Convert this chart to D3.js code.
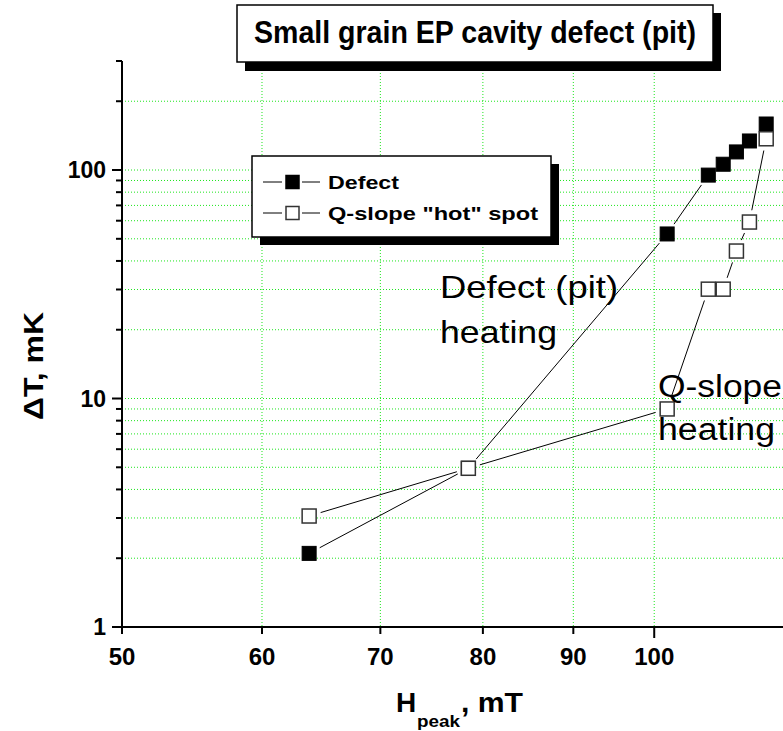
<!DOCTYPE html>
<html>
<head>
<meta charset="utf-8">
<script src="https://cdnjs.cloudflare.com/ajax/libs/d3/7.8.5/d3.min.js"></script>
<style>
    body { margin: 0; background: #ffffff; }
    text { font-family: Arial, "Liberation Sans", sans-serif; }
</style>
</head>
<body>
<div id="content"></div>
<script>
// data
var defectH = [63.8, 78.5, 101.7, 107.3, 109.4, 111.3, 113.2, 115.7];
var defectT = [2.1, 4.95, 52.5, 95, 106, 120, 134, 159];
var hotH = [63.8, 78.5, 101.7, 107.3, 109.4, 111.3, 113.2, 115.7];
var hotT = [3.06, 4.95, 9.0, 30.1, 30.1, 44.2, 59.2, 137];
var xTicks = [50, 60, 70, 80, 90, 100];
var xGrid = [60, 70, 80, 90, 100];
var yMajor = [1, 10, 100];
var yMinor = [2, 3, 4, 5, 6, 7, 8, 9, 20, 30, 40, 50, 60, 70, 80, 90, 200, 300];
var yGrid = [2, 3, 4, 5, 6, 7, 8, 9, 10, 20, 30, 40, 50, 60, 70, 80, 90, 100, 200];

var W = 783, H = 731;
var x0 = 122, y0 = 627, yTop = 61;
var perDecade = 1768;

var svg = d3.select("#content").append("svg")
    .attr("width", W)
    .attr("height", H)
    .style("display", "block");

var x = d3.scaleLog().domain([50, 120]).range([x0, x0 + perDecade * Math.log10(120 / 50)]);
var y = d3.scaleLog().domain([1, 300]).range([y0, yTop]);

//grid
var gridColor = "#1ee61e";
svg.selectAll(".hgrid").data(yGrid).enter().append("line")
    .attr("x1", x0).attr("x2", W)
    .attr("y1", function(d){ return y(d); })
    .attr("y2", function(d){ return y(d); })
    .attr("stroke", gridColor)
    .attr("stroke-width", 1)
    .attr("stroke-dasharray", "1,2");
svg.selectAll(".vgrid").data(xGrid).enter().append("line")
    .attr("x1", function(d){ return x(d); })
    .attr("x2", function(d){ return x(d); })
    .attr("y1", yTop).attr("y2", y0)
    .attr("stroke", gridColor)
    .attr("stroke-width", 1)
    .attr("stroke-dasharray", "1,2");

//axes
svg.append("line").attr("x1", x0).attr("x2", x0).attr("y1", yTop).attr("y2", y0 + 1)
    .attr("stroke", "#000").attr("stroke-width", 2);
svg.append("line").attr("x1", x0 - 1).attr("x2", W).attr("y1", y0).attr("y2", y0)
    .attr("stroke", "#000").attr("stroke-width", 2);

svg.selectAll(".ymaj").data(yMajor).enter().append("line")
    .attr("x1", x0 - 10).attr("x2", x0)
    .attr("y1", function(d){ return y(d); })
    .attr("y2", function(d){ return y(d); })
    .attr("stroke", "#000").attr("stroke-width", 2);
svg.selectAll(".ymin").data(yMinor).enter().append("line")
    .attr("x1", x0 - 6).attr("x2", x0)
    .attr("y1", function(d){ return y(d); })
    .attr("y2", function(d){ return y(d); })
    .attr("stroke", "#000").attr("stroke-width", 2);
svg.selectAll(".xtick").data(xTicks).enter().append("line")
    .attr("x1", function(d){ return x(d); })
    .attr("x2", function(d){ return x(d); })
    .attr("y1", y0)
    .attr("y2", function(d){ return d == 100 ? y0 + 11 : y0 + 7; })
    .attr("stroke", "#000").attr("stroke-width", 2);

svg.selectAll(".ylab").data(yMajor).enter().append("text")
    .text(function(d){ return d; })
    .attr("x", x0 - 16)
    .attr("y", function(d){ return y(d) + 8; })
    .attr("text-anchor", "end")
    .attr("font-size", 23)
    .attr("font-weight", "bold");
svg.selectAll(".xlab").data(xTicks).enter().append("text")
    .text(function(d){ return d; })
    .attr("x", function(d){ return x(d); })
    .attr("y", 665)
    .attr("text-anchor", "middle")
    .attr("font-size", 24)
    .attr("font-weight", "bold");

//axis titles
svg.append("text")
    .text("\u0394T, mK")
    .attr("transform", "translate(43,366) rotate(-90)")
    .attr("text-anchor", "middle")
    .attr("font-size", 27)
    .attr("font-weight", "bold")
    .attr("textLength", 108)
    .attr("lengthAdjust", "spacingAndGlyphs");
svg.append("text").text("H").attr("x", 396).attr("y", 712)
    .attr("font-size", 28).attr("font-weight", "bold");
svg.append("text").text("peak").attr("x", 417).attr("y", 727)
    .attr("font-size", 17).attr("font-weight", "bold")
    .attr("textLength", 43).attr("lengthAdjust", "spacingAndGlyphs");
svg.append("text").text(", mT").attr("x", 461).attr("y", 712)
    .attr("font-size", 28).attr("font-weight", "bold")
    .attr("textLength", 62).attr("lengthAdjust", "spacingAndGlyphs");

//connecting lines with a gap around each marker
function drawLines(xs, ys){
    var gap = 12;
    for(var i = 1; i < xs.length; i++){
        var ax = x(xs[i-1]), ay = y(ys[i-1]);
        var bx = x(xs[i]), by = y(ys[i]);
        var len = Math.sqrt((bx-ax)*(bx-ax) + (by-ay)*(by-ay));
        if(len <= 2*gap){
            continue;
        }
        var ux = (bx-ax)/len, uy = (by-ay)/len;
        svg.append("line")
            .attr("x1", ax + ux*gap).attr("y1", ay + uy*gap)
            .attr("x2", bx - ux*gap).attr("y2", by - uy*gap)
            .attr("stroke", "#000")
            .attr("stroke-width", 1);
    }
}

function drawMarkers(xs, ys, filled){
    var s = 14;
    svg.selectAll(null).data(xs).enter().append("rect")
        .attr("x", function(d){ return x(d) - s/2; })
        .attr("y", function(d, i){ return y(ys[i]) - s/2; })
        .attr("width", s)
        .attr("height", s)
        .attr("fill", filled ? "#000" : "#fff")
        .attr("stroke", filled ? "#000" : "#333")
        .attr("stroke-width", filled ? 1 : 1.5);
}

drawLines(defectH, defectT);
drawMarkers(defectH, defectT, true);
drawLines(hotH, hotT);
drawMarkers(hotH, hotT, false);

//annotations
svg.append("text").text("Defect (pit)").attr("x", 440).attr("y", 298)
    .attr("font-size", 32).attr("textLength", 178).attr("lengthAdjust", "spacingAndGlyphs");
svg.append("text").text("heating").attr("x", 440).attr("y", 343)
    .attr("font-size", 32).attr("textLength", 117).attr("lengthAdjust", "spacingAndGlyphs");
svg.append("text").text("Q-slope").attr("x", 658).attr("y", 397)
    .attr("font-size", 31).attr("textLength", 124).attr("lengthAdjust", "spacingAndGlyphs");
svg.append("text").text("heating").attr("x", 658).attr("y", 440)
    .attr("font-size", 31).attr("textLength", 117).attr("lengthAdjust", "spacingAndGlyphs");

//legend
svg.append("rect").attr("x", 260).attr("y", 164).attr("width", 299).attr("height", 81).attr("fill", "#000");
svg.append("rect").attr("x", 252).attr("y", 156).attr("width", 299).attr("height", 81)
    .attr("fill", "#fff").attr("stroke", "#000").attr("stroke-width", 1.5);

var legendNames = ["Defect", "Q-slope \"hot\" spot"];
var legendWidths = [71, 210];
legendNames.forEach(function(name, i){
    var ly = 182 + i*31;
    svg.append("line").attr("x1", 263).attr("x2", 282).attr("y1", ly).attr("y2", ly)
        .attr("stroke", "#000").attr("stroke-width", 1);
    svg.append("line").attr("x1", 302).attr("x2", 320).attr("y1", ly).attr("y2", ly)
        .attr("stroke", "#000").attr("stroke-width", 1);
    svg.append("rect").attr("x", 286).attr("y", ly - 6.5).attr("width", 13).attr("height", 13)
        .attr("fill", i == 0 ? "#000" : "#fff")
        .attr("stroke", i == 0 ? "#000" : "#333")
        .attr("stroke-width", 1.5);
    svg.append("text").text(name).attr("x", 328).attr("y", ly + 7)
        .attr("font-size", 19).attr("font-weight", "bold")
        .attr("textLength", legendWidths[i]).attr("lengthAdjust", "spacingAndGlyphs");
});

//title box
svg.append("rect").attr("x", 245).attr("y", 13).attr("width", 476).attr("height", 58).attr("fill", "#000");
svg.append("rect").attr("x", 237).attr("y", 5).attr("width", 476).attr("height", 57)
    .attr("fill", "#fff").attr("stroke", "#000").attr("stroke-width", 1.5);
svg.append("text").text("Small grain EP cavity defect (pit)")
    .attr("x", 475).attr("y", 43)
    .attr("text-anchor", "middle")
    .attr("font-size", 31).attr("font-weight", "bold")
    .attr("textLength", 442).attr("lengthAdjust", "spacingAndGlyphs");
</script>
</body>
</html>
